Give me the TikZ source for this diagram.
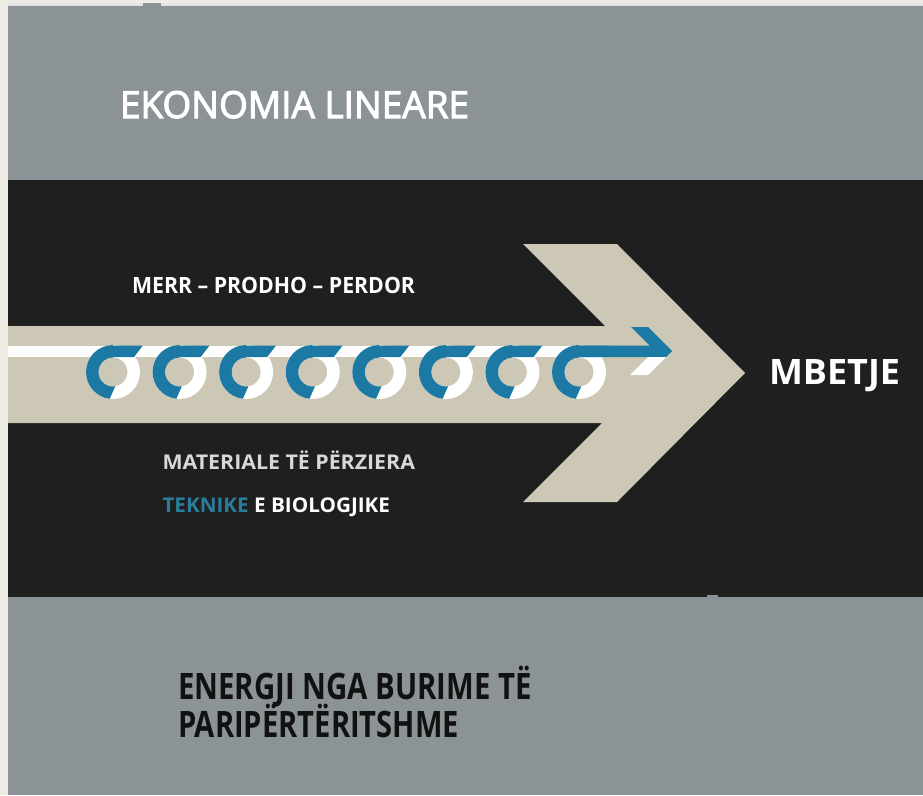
\documentclass[tikz,border=0pt]{standalone}
\usepackage{fontspec}
\usepackage{graphicx}
\setmainfont{Open Sans}
\newfontfamily\titlefont{Open Sans}[FakeBold=2.8]
\definecolor{cream}{HTML}{EEECE3}
\definecolor{graybg}{HTML}{8C9396}
\definecolor{toplite}{HTML}{E2E4E4}
\definecolor{blackbg}{HTML}{1F1F1F}
\definecolor{beige}{HTML}{CCC8B5}
\definecolor{ribbon}{HTML}{1B79A4}
\definecolor{textgray}{HTML}{D8D8D8}
\definecolor{tekblue}{HTML}{2B7C9C}
\definecolor{darktext}{HTML}{111111}
\tikzset{
  lbl/.style={anchor=base west, inner sep=0pt, outer sep=0pt},
  bluepart/.style={fill=ribbon},
  whitepart/.style={fill=white}
}
\newcommand{\capbox}[3]{\resizebox{#1}{#2}{\smash{#3}\vphantom{E}}}
\begin{document}
\begin{tikzpicture}[x=1pt,y=1pt]
\useasboundingbox (0,0) rectangle (923,-795);
% backgrounds
\fill[cream] (0,0) rectangle (923,-795);
\fill[graybg] (8,-3) rectangle (923,-180);
\fill[toplite] (8,-3) rectangle (143,-6);
\fill[toplite] (161,-3) rectangle (923,-6);
\fill[blackbg] (8,-180) rectangle (923,-597);
\fill[graybg] (8,-597) rectangle (923,-795);
\fill[graybg] (707,-595) rectangle (718,-597);
% big beige arrow
\fill[beige] (8,-326) -- (605,-326) -- (523,-244) -- (617,-244) -- (745,-373)
  -- (617,-502) -- (523,-502) -- (602,-423) -- (8,-423) -- cycle;
% white line
\fill[whitepart] (8,-345.5) rectangle (579,-357);
% loops
\foreach \i in {0,...,7}{
  \pgfmathsetmacro\cx{113+66.57*\i}
  \fill[whitepart,even odd rule] (\cx,-372) circle (27) (\cx,-372) circle (14.5);
  \fill[bluepart] (\cx,-345) arc (90:263:27)
    -- ([shift={(\cx,-372)}]279:14.5) arc (279:90:14.5) -- cycle;
  \fill[bluepart] (\cx-1,-345.5) -- (\cx+30,-345.5) -- (\cx+21,-357) -- (\cx-1,-357) -- cycle;
}
% final arrow of the ribbon
\fill[bluepart] (578,-345.5) -- (649.5,-345.5) -- (631,-327) -- (648,-327) -- (672,-351)
  -- (666,-357) -- (578,-357) -- cycle;
\fill[whitepart] (630,-375) -- (648,-375) -- (666,-357) -- (648,-357) -- cycle;
% texts
\node[lbl, text=white] (title) at (120,-118) {\resizebox{349pt}{27pt}{\titlefont EKONOMIA LINEARE}};
\node[lbl, text=white] (merr) at (132,-293) {\capbox{283pt}{16pt}{\bfseries MERR – PRODHO – PERDOR}};
\node[lbl, text=textgray] (mat) at (162.5,-469.5) {\capbox{252.5pt}{14.5pt}{\bfseries MATERIALE TË PËRZIERA}};
\node[lbl, text=white] (tek) at (162.5,-512) {\capbox{227.5pt}{14.5pt}{\bfseries\textcolor{tekblue}{TEKNIKE} E BIOLOGJIKE}};
\node[lbl, text=white] (mbetje) at (769,-384) {\capbox{131pt}{25pt}{\bfseries MBETJE}};
\node[lbl, text=darktext] (energji1) at (178,-699) {\capbox{354pt}{26pt}{\bfseries ENERGJI NGA BURIME TË}};
\node[lbl, text=darktext] (energji2) at (178,-737) {\capbox{281pt}{26pt}{\bfseries PARIPËRTËRITSHME}};
\end{tikzpicture}
\end{document}
